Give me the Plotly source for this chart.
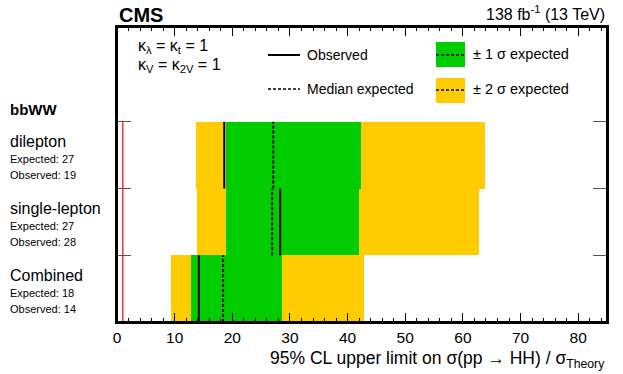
import plotly.graph_objects as go

# channels, bottom to top
channels = ["Combined", "single-lepton", "dilepton"]
rows = [0, 1, 2]
expected = [18.4, 26.9, 27.1]
observed = [14.2, 28.3, 18.6]
exp_lo1 = [12.75, 18.9, 18.9]
exp_hi1 = [28.7, 42.0, 42.4]
exp_lo2 = [9.4, 13.9, 13.7]
exp_hi2 = [42.8, 62.8, 63.9]
exp_label = [18, 27, 27]
obs_label = [14, 28, 19]
theory = 1.0

YELLOW = "#FFCC00"
GREEN = "#00CC00"
FONT = "Liberation Sans, Arial, sans-serif"

fig = go.Figure()

fig.add_trace(go.Bar(orientation="h", y=[r + 0.5 for r in rows],
                     base=exp_lo2, x=[h - l for l, h in zip(exp_lo2, exp_hi2)],
                     width=1, marker=dict(color=YELLOW, line=dict(width=0)),
                     showlegend=False, hoverinfo="skip"))
fig.add_trace(go.Bar(orientation="h", y=[r + 0.5 for r in rows],
                     base=exp_lo1, x=[h - l for l, h in zip(exp_lo1, exp_hi1)],
                     width=1, marker=dict(color=GREEN, line=dict(width=0)),
                     showlegend=False, hoverinfo="skip"))

def segs(vals):
    xs, ys = [], []
    for r, v in zip(rows, vals):
        xs += [v, v, None]
        ys += [r, r + 1, None]
    return xs, ys

ex, ey = segs(expected)
fig.add_trace(go.Scatter(x=ex, y=ey, mode="lines",
                         line=dict(color="black", width=2, dash="3px,2px"),
                         showlegend=False, hoverinfo="skip"))
ox, oy = segs(observed)
fig.add_trace(go.Scatter(x=ox, y=oy, mode="lines",
                         line=dict(color="black", width=2),
                         showlegend=False, hoverinfo="skip"))
fig.add_trace(go.Scatter(x=[theory, theory], y=[0, 3], mode="lines",
                         line=dict(color="#FF3333", width=1.5),
                         showlegend=False, hoverinfo="skip"))

ann = []
def label(text, x, y, size, bold=False, anchor="left", yref="y"):
    ann.append(dict(text=f"<b>{text}</b>" if bold else text, x=x, y=y,
                    xref="paper", yref=yref, xanchor=anchor, yanchor="middle",
                    showarrow=False, font=dict(family=FONT, size=size, color="black")))

px = lambda p: (p - 117) / 490.0
py = lambda p: (322 - p) / 295.0

label("bbWW", px(8), 3.18, 15, bold=True)
for r, name, e, o in zip(rows, channels, exp_label, obs_label):
    label(name, px(8), r + 0.70, 16)
    label(f"Expected: {e}", px(8), r + 0.44, 11)
    label(f"Observed: {o}", px(8), r + 0.20, 11)

label("CMS", px(117), py(15), 20, bold=True, yref="paper")
label("138 fb<sup>-1</sup> (13 TeV)", 1.0, py(13), 16, anchor="right", yref="paper")
label("κ<sub>λ</sub> = κ<sub>t</sub> = 1", px(136), py(46), 16, yref="paper")
label("κ<sub>V</sub> = κ<sub>2V</sub> = 1", px(136), py(65), 16, yref="paper")
label("Observed", px(305), py(55), 14, yref="paper")
label("Median expected", px(305), py(89), 14, yref="paper")
label("± 1 σ expected", px(471), py(54), 14.5, yref="paper")
label("± 2 σ expected", px(471), py(89), 14.5, yref="paper")
label("95% CL upper limit on σ(pp → HH) / σ<sub>Theory</sub>", 1.0, py(359), 17.5,
      anchor="right", yref="paper")

shapes = [
    dict(type="rect", xref="paper", yref="paper", x0=0, x1=1, y0=0, y1=1,
         line=dict(color="black", width=2), layer="above"),
    dict(type="rect", xref="paper", yref="paper", x0=px(436), x1=px(465),
         y0=py(67), y1=py(42), fillcolor=GREEN, line=dict(width=0)),
    dict(type="rect", xref="paper", yref="paper", x0=px(436), x1=px(465),
         y0=py(103), y1=py(78), fillcolor=YELLOW, line=dict(width=0)),
    dict(type="line", xref="paper", yref="paper", x0=px(268), x1=px(300),
         y0=py(55), y1=py(55), line=dict(color="black", width=2)),
    dict(type="line", xref="paper", yref="paper", x0=px(268), x1=px(300),
         y0=py(89), y1=py(89), line=dict(color="black", width=1.5, dash="3px,2px")),
    dict(type="line", xref="paper", yref="paper", x0=px(436), x1=px(465),
         y0=py(55), y1=py(55), line=dict(color="black", width=1.5, dash="3px,2px")),
    dict(type="line", xref="paper", yref="paper", x0=px(436), x1=px(465),
         y0=py(90), y1=py(90), line=dict(color="black", width=1.5, dash="3px,2px")),
]

fig.update_layout(
    width=623, height=374,
    margin=dict(l=117, r=16, t=27, b=52),
    paper_bgcolor="white", plot_bgcolor="white",
    barmode="overlay", bargap=0,
    font=dict(family=FONT, color="black"),
    annotations=ann, shapes=shapes,
    xaxis=dict(range=[0, 85], dtick=10, ticks="inside", ticklen=9, tickwidth=1,
               tickcolor="black", showline=True, linecolor="black", linewidth=2,
               mirror="ticks", showgrid=False, zeroline=False,
               tickfont=dict(size=15.5, family=FONT),
               minor=dict(dtick=2, ticks="inside", ticklen=4, tickcolor="black")),
    yaxis=dict(range=[0, 4.42], tickvals=[1, 2, 3], ticks="inside", ticklen=14,
               tickcolor="#555555", showticklabels=False, showline=True,
               linecolor="black", linewidth=2, mirror="ticks", showgrid=False,
               zeroline=False),
)

fig.write_html("out.html", config={"displayModeBar": False},
               post_script="document.body.style.margin='0';")
